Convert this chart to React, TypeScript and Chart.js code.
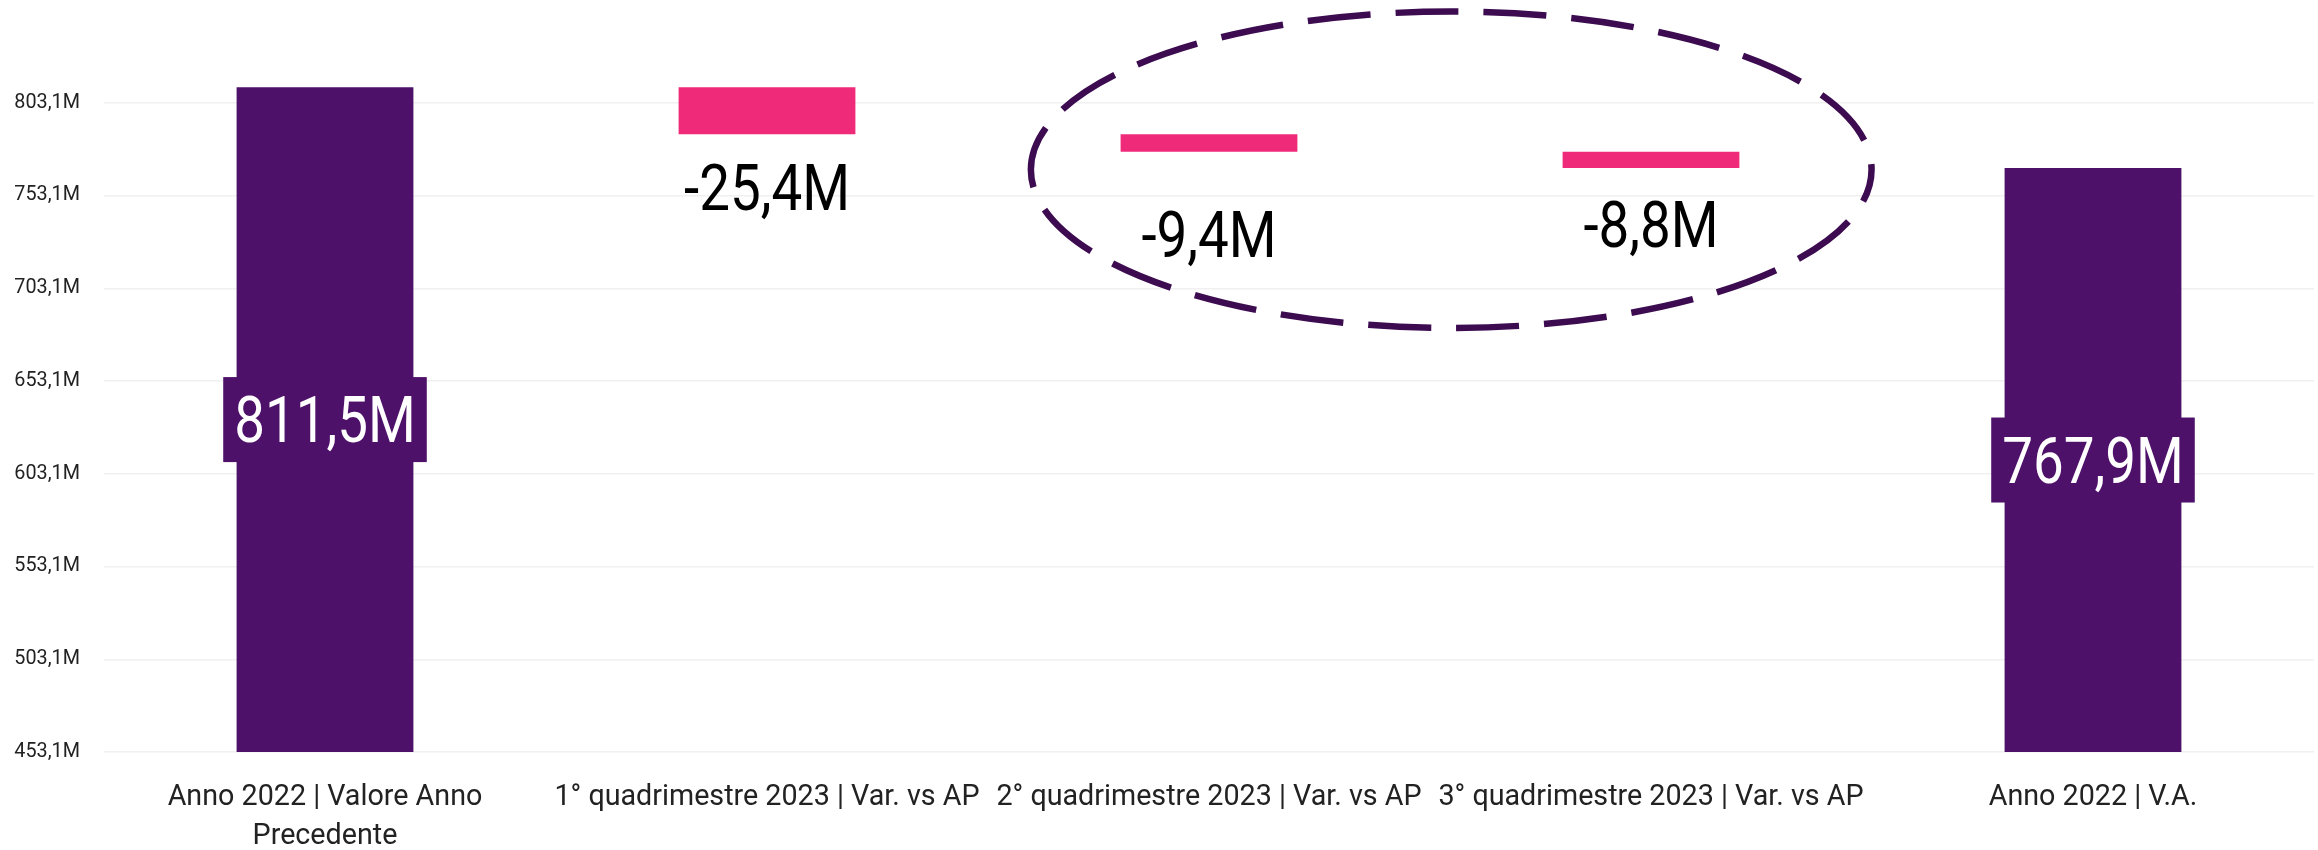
import React, { useEffect, useRef } from 'react';
import { Chart, registerables } from 'chart.js';

Chart.register(...registerables);

// ---- data ----
const categories: (string | string[])[] = [
  ['Anno 2022 | Valore Anno', 'Precedente'],
  '1° quadrimestre 2023 | Var. vs AP',
  '2° quadrimestre 2023 | Var. vs AP',
  '3° quadrimestre 2023 | Var. vs AP',
  'Anno 2022 | V.A.',
];
const startValue = 811.5;
const deltas = [-25.4, -9.4, -8.8];
const endValue = 767.9;
const yTicks = [453.1, 503.1, 553.1, 603.1, 653.1, 703.1, 753.1, 803.1];
const yMax = 853.1;

// ---- style ----
const PURPLE = '#4E116A';
const PINK = '#EF2A79';
const ELLIPSE = '#3C0B50';
const labelFontSize = 64;
const condense = 0.855;
const negLabelDy = [76, 105, 79]; // baseline distance below bar bottom
const ellipseCfg = { xCenter: 2.548, xRadius: 0.951, yCenter: 767.0, yRadius: 85.3 };

const fmt = (v: number) => v.toFixed(1).replace('.', ',') + 'M';

function buildData() {
  const yMin = yTicks[0];
  const bars: [number, number][] = [[yMin, startValue]];
  const colors = [PURPLE];
  const values = [startValue];
  let run = startValue;
  deltas.forEach((d) => {
    bars.push([run, run + d]);
    colors.push(PINK);
    values.push(d);
    run = run + d;
  });
  bars.push([yMin, endValue]);
  colors.push(PURPLE);
  values.push(endValue);
  return { bars, colors, values };
}

function drawCondensed(ctx: CanvasRenderingContext2D, text: string, cx: number, by: number, color: string) {
  ctx.save();
  ctx.font = `${labelFontSize}px Roboto`;
  ctx.translate(cx, by);
  ctx.scale(condense, 1);
  ctx.textAlign = 'center';
  ctx.textBaseline = 'alphabetic';
  ctx.fillStyle = color;
  ctx.fillText(text, 0, 0);
  ctx.restore();
}

export default function App() {
  const ref = useRef<HTMLCanvasElement | null>(null);

  useEffect(() => {
    if (!ref.current) return;
    const { bars, colors, values } = buildData();

    const labelPlugin = {
      id: 'wfLabels',
      afterDatasetsDraw(chart: any) {
        const ctx: CanvasRenderingContext2D = chart.ctx;
        const meta = chart.getDatasetMeta(0);
        meta.data.forEach((bar: any, i: number) => {
          const p = bar.getProps(['x', 'y', 'base'], true);
          const top = Math.min(p.y, p.base);
          const bottom = Math.max(p.y, p.base);
          const text = fmt(values[i]);
          const isTotal = i === 0 || i === values.length - 1;
          ctx.save();
          ctx.font = `${labelFontSize}px Roboto`;
          const tw = ctx.measureText(text).width * condense;
          ctx.restore();
          if (isTotal) {
            const cy = (top + bottom) / 2;
            const bw = tw + 22;
            const bh = 85;
            ctx.save();
            ctx.fillStyle = PURPLE;
            ctx.fillRect(p.x - bw / 2, cy - bh / 2, bw, bh);
            ctx.restore();
            drawCondensed(ctx, text, p.x, cy + labelFontSize * 0.711 / 2, '#FFFFFF');
          } else {
            drawCondensed(ctx, text, p.x, bottom + negLabelDy[i - 1], '#000000');
          }
        });
      },
    };

    const ellipsePlugin = {
      id: 'ellipse',
      afterDraw(chart: any) {
        const xs = chart.scales.x;
        const ys = chart.scales.y;
        const cx = xs.getPixelForValue(ellipseCfg.xCenter);
        const rx = xs.getPixelForValue(ellipseCfg.xCenter + ellipseCfg.xRadius) - cx;
        const cy = ys.getPixelForValue(ellipseCfg.yCenter);
        const ry = ys.getPixelForValue(ellipseCfg.yCenter - ellipseCfg.yRadius) - cy;
        const ctx: CanvasRenderingContext2D = chart.ctx;
        ctx.save();
        ctx.strokeStyle = ELLIPSE;
        ctx.lineWidth = 6.5;
        ctx.setLineDash([63, 25]);
        ctx.lineDashOffset = 30;
        ctx.beginPath();
        ctx.ellipse(cx, cy, rx, ry, 0, 0, Math.PI * 2);
        ctx.stroke();
        ctx.restore();
      },
    };

    Chart.defaults.font.family = 'Roboto';
    const chart = new Chart(ref.current, {
      type: 'bar',
      data: {
        labels: categories as any,
        datasets: [
          {
            data: bars as any,
            backgroundColor: colors,
            borderWidth: 0,
            barPercentage: 0.4,
            categoryPercentage: 1,
          },
        ],
      },
      options: {
        responsive: false,
        animation: false,
        devicePixelRatio: 1,
        layout: { padding: { top: 10, right: 4, left: 0, bottom: 0 } },
        plugins: {
          legend: { display: false },
          tooltip: { enabled: false },
          title: { display: false },
        },
        scales: {
          x: {
            grid: { display: false, drawTicks: false },
            border: { display: false },
            ticks: {
              color: '#222222',
              font: { family: 'Roboto', size: 28.7, lineHeight: 1.37 },
              padding: 26,
              maxRotation: 0,
              minRotation: 0,
              autoSkip: false,
            },
            afterFit: (scale: any) => {
              scale.height = 98;
              scale.paddingLeft = 0;
              scale.paddingRight = 0;
            },
          },
          y: {
            min: yTicks[0],
            max: yMax,
            grid: { color: '#F0F0F0', lineWidth: 1.5, drawTicks: false },
            border: { display: false },
            ticks: {
              color: '#222222',
              font: { family: 'Roboto', size: 19.8 },
              padding: 24,
              callback: (v: any) => fmt(Number(v)),
            },
            afterBuildTicks: (scale: any) => {
              scale.ticks = yTicks.map((v) => ({ value: v }));
            },
            afterFit: (scale: any) => {
              scale.width = 104;
              scale.paddingTop = 0;
              scale.paddingBottom = 0;
            },
          },
        },
      },
      plugins: [labelPlugin, ellipsePlugin],
    });
    return () => chart.destroy();
  }, []);

  return (
    <canvas
      ref={ref}
      width={2318}
      height={850}
      style={{ position: 'fixed', left: 0, top: 0, width: 2318, height: 850, display: 'block' }}
    />
  );
}
